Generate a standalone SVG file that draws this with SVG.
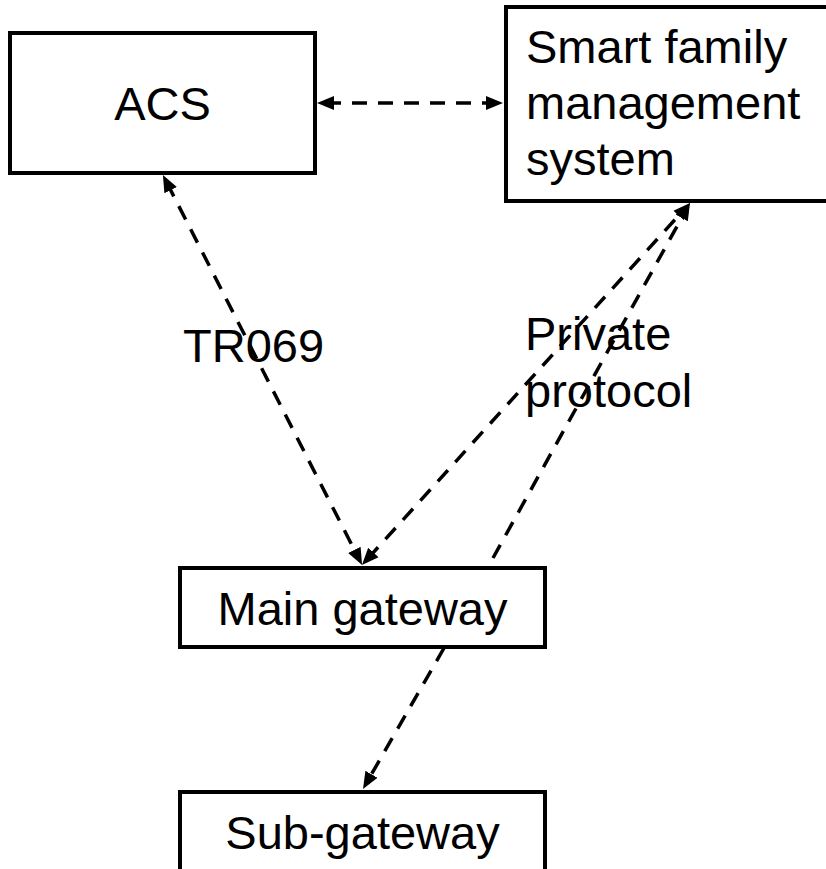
<svg xmlns="http://www.w3.org/2000/svg" width="826" height="869" viewBox="0 0 826 869">
<style>
.box{fill:#fff;stroke:#000;stroke-width:4}
.t{font-family:"Liberation Sans",Arial,sans-serif;font-size:47px;fill:#000}
.c{stroke:#000;stroke-width:3.5;stroke-dasharray:15 11;fill:none}
</style>
<defs>
<marker id="ah" markerUnits="userSpaceOnUse" markerWidth="18" markerHeight="16" viewBox="0 0 18 16" refX="8" refY="8" orient="auto-start-reverse">
<path d="M0,1 L17,8 L0,15 z" fill="#000"/>
</marker>
</defs>
<rect width="826" height="869" fill="#fff"/>
<g id="acs">
<rect class="box" x="10" y="33" width="305" height="140"/>
<text class="t" x="162.5" y="120" text-anchor="middle">ACS</text>
</g>
<g id="smart">
<rect class="box" x="506" y="7" width="340" height="194"/>
<text class="t" x="526" y="63">Smart family</text>
<text class="t" x="526" y="119">management</text>
<text class="t" x="526" y="175">system</text>
</g>
<g id="main">
<rect class="box" x="180" y="568" width="365" height="79"/>
<text class="t" x="362.5" y="625" text-anchor="middle">Main gateway</text>
</g>
<g id="sub">
<rect class="box" x="180" y="792" width="365" height="100"/>
<text class="t" x="362.5" y="849" text-anchor="middle">Sub-gateway</text>
</g>
<g id="connectors">
<line class="c" x1="326" y1="103" x2="494" y2="103" marker-start="url(#ah)" marker-end="url(#ah)"/>
<line class="c" x1="167" y1="183" x2="358" y2="557" marker-start="url(#ah)" marker-end="url(#ah)"/>
<line class="c" x1="368" y1="558.4" x2="684" y2="209.6" marker-start="url(#ah)" marker-end="url(#ah)"/>
<line class="c" x1="493" y1="558" x2="685.6" y2="210.9" marker-end="url(#ah)"/>
<line class="c" x1="444" y1="648" x2="367.5" y2="781.2" marker-end="url(#ah)"/>
</g>
<g id="labels">
<text class="t" x="183" y="362">TR069</text>
<text class="t" x="525" y="350">Private</text>
<text class="t" x="525" y="407">protocol</text>
</g>
</svg>
